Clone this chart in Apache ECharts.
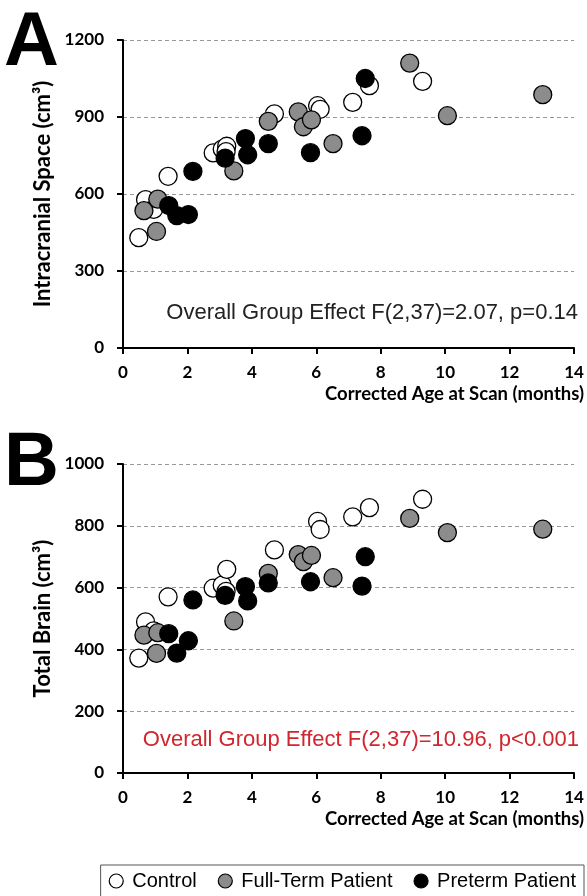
<!DOCTYPE html>
<html>
<head>
<meta charset="utf-8">
<script src="https://cdn.jsdelivr.net/npm/echarts@6/dist/echarts.min.js"></script>
<style>
  html, body { margin: 0; padding: 0; background: #fff; }
  #chart { width: 587px; height: 896px; }
</style>
</head>
<body>
<div id="chart"></div>
<script>
// corrected age at scan (months) and volumes (cm3)
const ageControl = [0.49, 0.70, 0.95, 1.40, 2.80, 3.08, 3.22, 3.20, 4.70, 6.04, 6.12, 7.13, 7.65, 9.30];
const icsControl = [430, 578, 540, 669, 760, 775, 786, 765, 912, 944, 930, 957, 1022, 1039];
const tbControl = [372, 489, 460, 570, 598, 608, 659, 588, 722, 814, 788, 829, 859, 886];

const ageFullTerm = [0.65, 1.08, 1.04, 3.44, 4.51, 5.44, 5.60, 5.85, 6.52, 8.90, 10.07, 13.03];
const icsFullTerm = [535, 580, 454, 690, 883, 920, 862, 889, 796, 1110, 905, 987];
const tbFullTerm = [446, 454, 387, 492, 646, 707, 684, 704, 632, 824, 778, 789];

const agePreterm = [1.42, 1.67, 2.03, 2.17, 3.17, 3.80, 3.87, 4.51, 5.82, 7.42, 7.52];
const icsPreterm = [555, 516, 520, 688, 740, 816, 753, 796, 761, 827, 1050];
const tbPreterm = [451, 388, 428, 560, 575, 603, 557, 615, 619, 605, 700];

const groupNames = ['Control', 'Full-Term Patient', 'Preterm Patient'];
const groupColors = ['#ffffff', '#8c8c8c', '#000000'];
const xTicks = { min: 0, max: 14, interval: 2 };

const statA = 'Overall Group Effect F(2,37)=2.07, p=0.14';
const statB = 'Overall Group Effect F(2,37)=10.96, p<0.001';

const labelFont = 'Lato, "Open Sans", sans-serif';
const textFont = '"Liberation Sans", Arial, sans-serif';

function zip(xs, ys) {
  return xs.map((x, i) => [x, ys[i]]);
}

function xAxisFor(gridIndex) {
  return {
    type: 'value',
    gridIndex: gridIndex,
    min: xTicks.min,
    max: xTicks.max,
    interval: xTicks.interval,
    name: 'Corrected Age at Scan (months)',
    nameLocation: 'end',
    nameGap: 10,
    nameTextStyle: {
      align: 'right',
      verticalAlign: 'top',
      padding: [37, 0, 0, 0],
      fontFamily: labelFont,
      fontWeight: 'bold',
      fontSize: 18.5,
      color: '#000'
    },
    axisLine: { lineStyle: { color: '#000', width: 2 } },
    axisTick: { show: true, inside: false, length: 6, lineStyle: { color: '#000', width: 2 } },
    axisLabel: { margin: 16, fontFamily: labelFont, fontWeight: 'bold', fontSize: 17, color: '#000' },
    splitLine: { show: false }
  };
}

function yAxisFor(gridIndex, max, interval, name) {
  return {
    type: 'value',
    gridIndex: gridIndex,
    min: 0,
    max: max,
    interval: interval,
    name: name,
    nameLocation: 'middle',
    nameGap: 68,
    nameRotate: 90,
    nameTextStyle: { fontFamily: labelFont, fontWeight: 'bold', fontSize: 22, color: '#000' },
    axisLine: { show: true, lineStyle: { color: '#000', width: 2 } },
    axisTick: { show: true, inside: false, length: 6, lineStyle: { color: '#000', width: 2 } },
    axisLabel: {
      margin: 19,
      formatter: (v) => String(v),
      fontFamily: labelFont,
      fontWeight: 'bold',
      fontSize: 17,
      color: '#000'
    },
    splitLine: { show: true, lineStyle: { color: '#999', width: 1, type: [4, 3] } }
  };
}

function scatter(name, color, idx, data) {
  return {
    name: name,
    type: 'scatter',
    xAxisIndex: idx,
    yAxisIndex: idx,
    symbol: 'circle',
    symbolSize: 18,
    data: data,
    itemStyle: { color: color, borderColor: '#000', borderWidth: 1.3, opacity: 1 },
    emphasis: { disabled: true }
  };
}

const chart = echarts.init(document.getElementById('chart'), null, { renderer: 'canvas' });

const series = [];
[[ageControl, icsControl, tbControl], [ageFullTerm, icsFullTerm, tbFullTerm], [agePreterm, icsPreterm, tbPreterm]]
  .forEach((g, i) => {
    series.push(scatter(groupNames[i], groupColors[i], 0, zip(g[0], g[1])));
    series.push(scatter(groupNames[i], groupColors[i], 1, zip(g[0], g[2])));
  });

chart.setOption({
  animation: false,
  backgroundColor: '#fff',
  grid: [
    { left: 123, width: 451, top: 40, height: 308 },
    { left: 123, width: 451, top: 464, height: 309 }
  ],
  xAxis: [xAxisFor(0), xAxisFor(1)],
  yAxis: [
    yAxisFor(0, 1200, 300, 'Intracranial Space (cm³)'),
    yAxisFor(1, 1000, 200, 'Total Brain (cm³)')
  ],
  legend: {
    data: groupNames,
    right: 3,
    top: 865,
    orient: 'horizontal',
    icon: 'circle',
    itemWidth: 14,
    itemHeight: 14,
    itemGap: 21,
    padding: [6, 8, 8, 8],
    borderColor: '#555',
    borderWidth: 1,
    selectedMode: false,
    itemStyle: { borderColor: '#000', borderWidth: 1.2 },
    textStyle: { fontFamily: textFont, fontSize: 20, color: '#000', padding: [0, 0, 0, 4] }
  },
  graphic: [
    { type: 'text', left: 4, top: 6, style: { text: 'A', font: 'bold 76px "Liberation Sans", Arial, sans-serif', fill: '#000' } },
    { type: 'text', left: 4, top: 426, style: { text: 'B', font: 'bold 76px "Liberation Sans", Arial, sans-serif', fill: '#000' } },
    { type: 'text', x: 578, y: 313, style: { text: statA, align: 'right', verticalAlign: 'middle', font: '22px "Liberation Sans", Arial, sans-serif', fill: '#222' } },
    { type: 'text', x: 579, y: 740, style: { text: statB, align: 'right', verticalAlign: 'middle', font: '22px "Liberation Sans", Arial, sans-serif', fill: '#d0262d' } }
  ],
  series: series
});
</script>
</body>
</html>
